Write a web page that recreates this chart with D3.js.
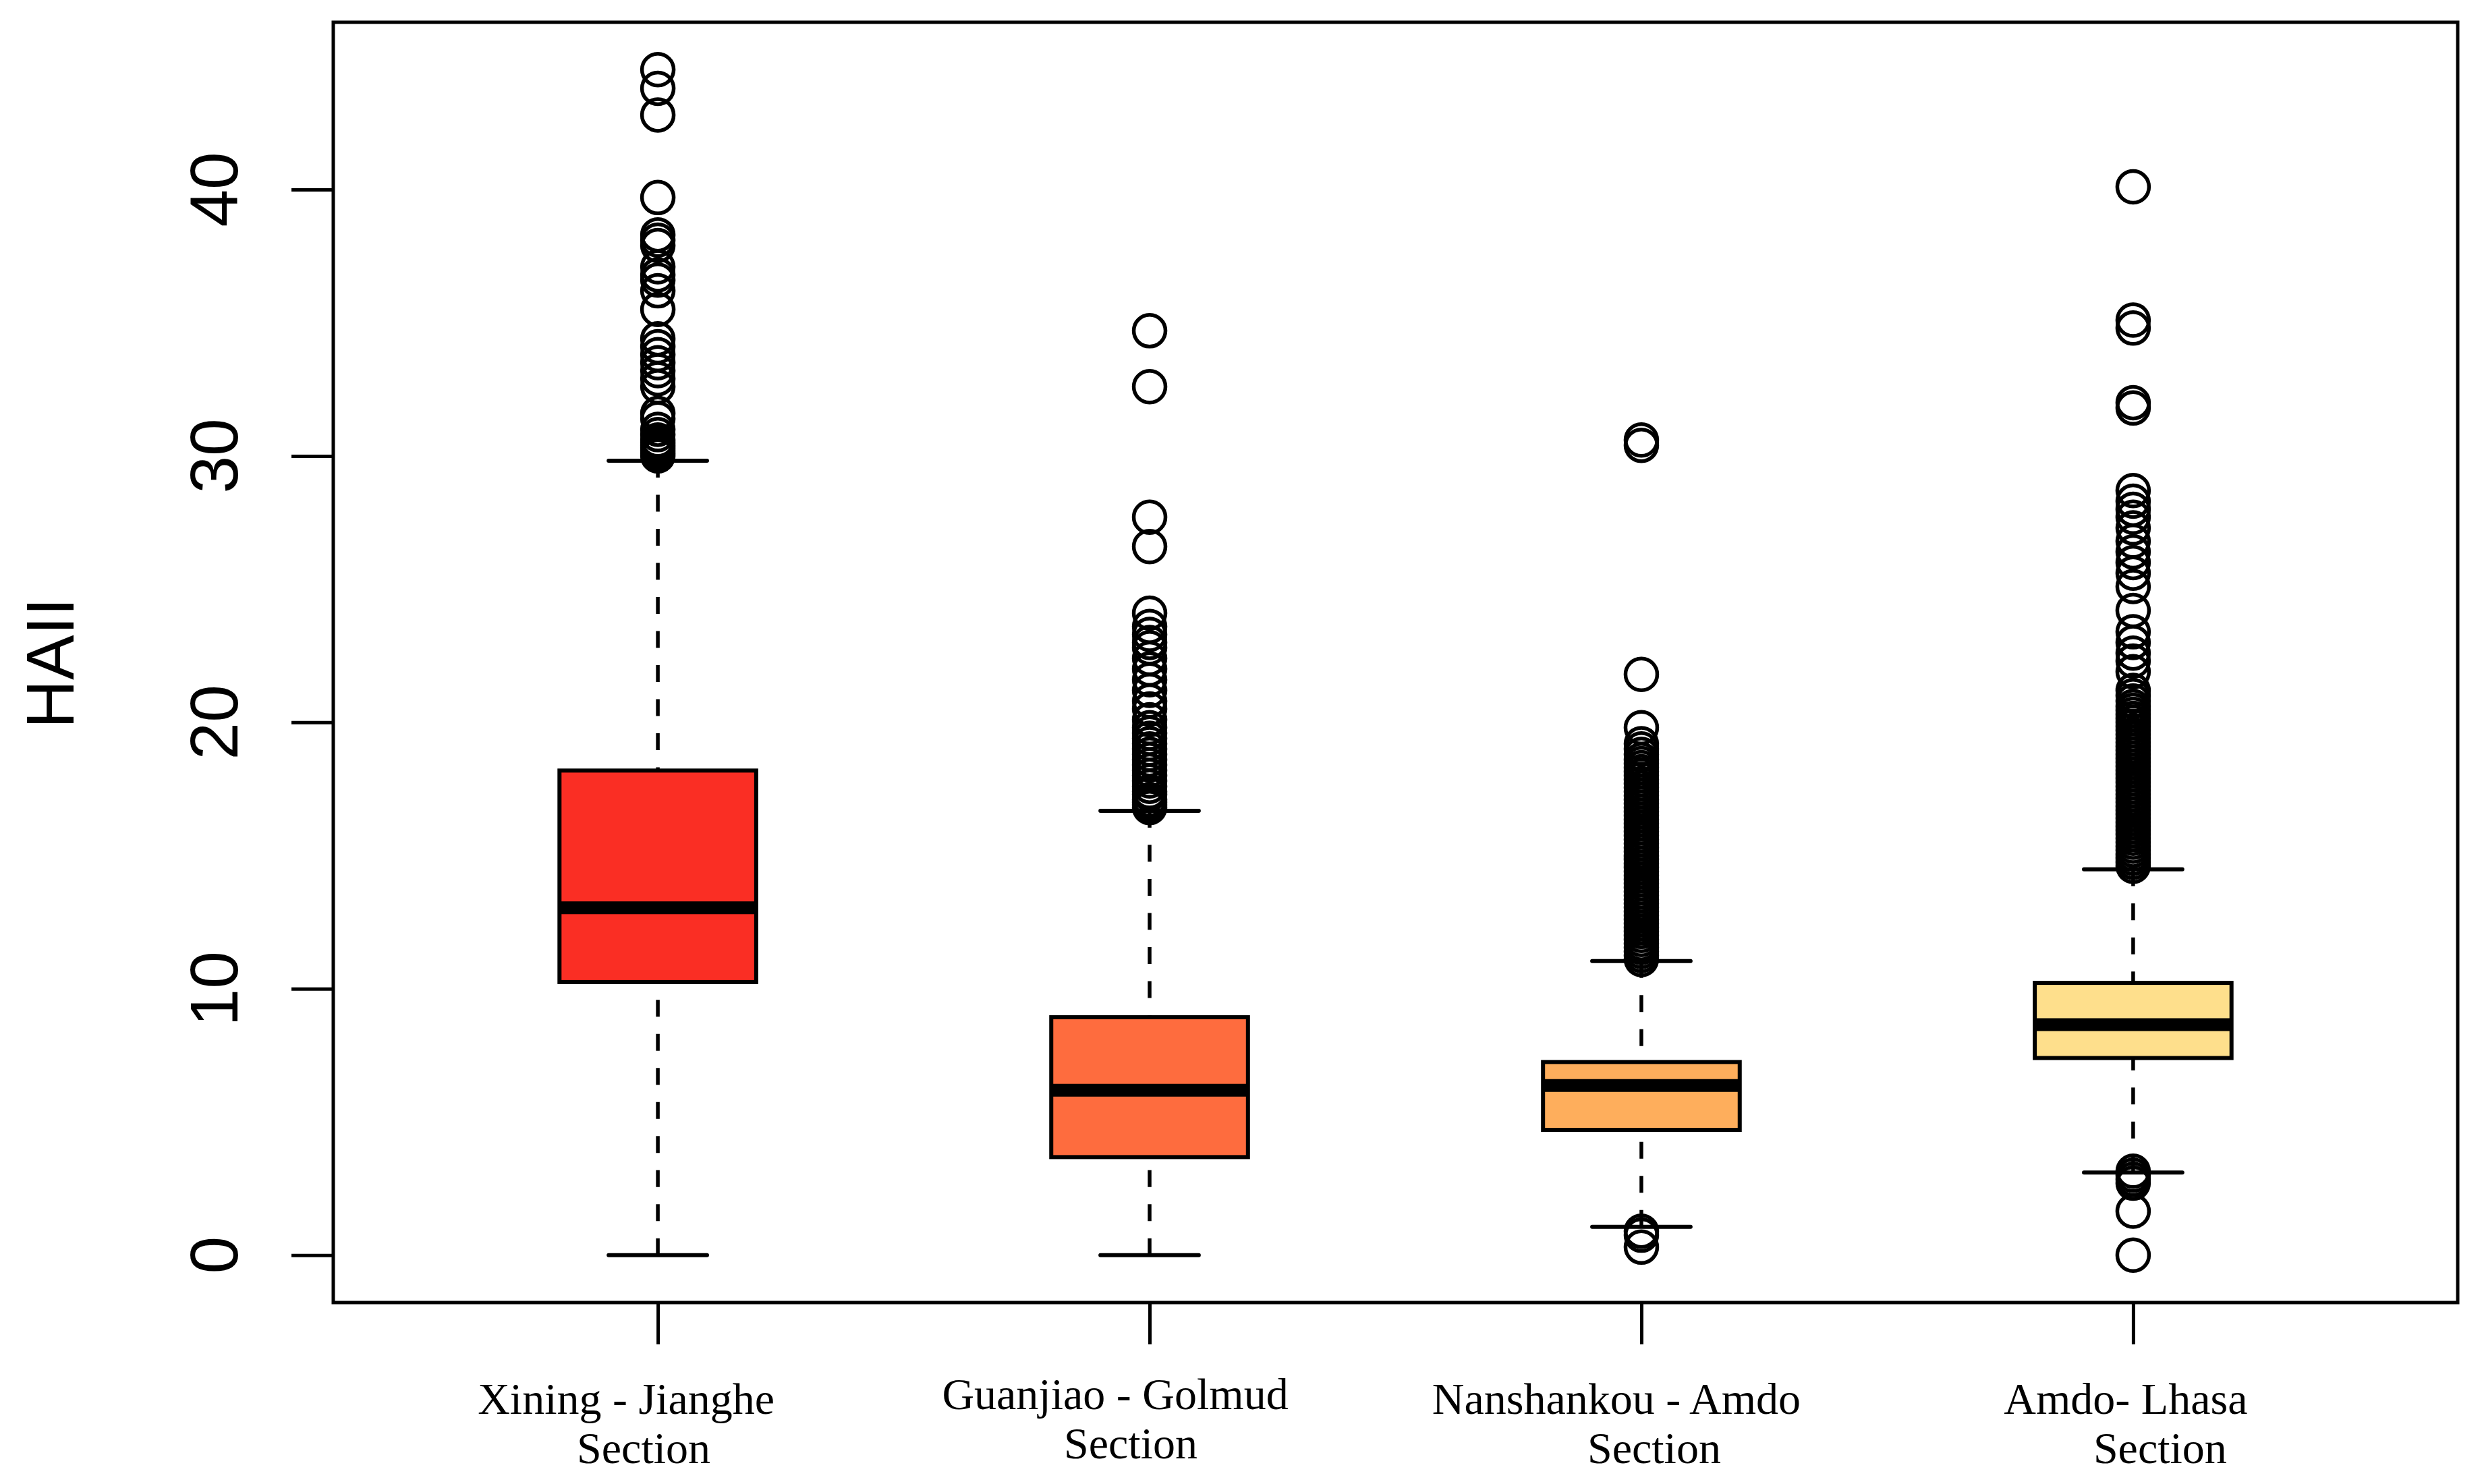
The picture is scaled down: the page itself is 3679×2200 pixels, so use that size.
<html>
<head>
<meta charset="utf-8">
<style>
    body { margin:0; background:white; }
</style>
</head>
<body>
<svg id="plot"></svg>
<script src="https://d3js.org/d3.v7.min.js"></script>
<script>

// ---- data ----
var sections = ["Xining - Jianghe", "Guanjiao - Golmud", "Nanshankou - Amdo", "Amdo- Lhasa"];
var labelLines = [["Xining - Jianghe","Section"],
                  ["Guanjiao - Golmud","Section"],
                  ["Nanshankou - Amdo","Section"],
                  ["Amdo- Lhasa","Section"]];
var fills = ["#FA2E24", "#FE6C3E", "#FEAE5C", "#FEDF8C"];

var whiskerLow  = [0,     0,    1.06, 3.10];
var q1          = [10.25, 3.68, 4.70, 7.40];
var medians     = [13.04, 6.19, 6.37, 8.65];
var q3          = [18.19, 8.93, 7.25, 10.22];
var whiskerHigh = [29.82, 16.68, 11.04, 14.48];

var outXining = [44.5, 43.8, 42.8, 39.7, 38.3, 38.1, 37.9, 37.1, 36.8, 36.6, 36.2, 35.5,
                 34.4, 34.1, 33.8, 33.5, 33.2, 32.9, 32.6, 31.6, 31.4, 31.0, 30.8, 30.6,
                 30.5, 30.4, 30.3, 30.2, 30.1, 30.0];
var outGuanjiao = [34.7, 32.6, 27.7, 26.6, 24.1, 23.6, 23.3, 23.0, 22.8, 22.4, 22.0, 21.6,
                   21.2, 20.8, 20.5, 20.1, 19.8, 19.6, 19.4, 19.2, 19.0, 18.8, 18.6, 18.4,
                   18.2, 18.0, 17.8, 17.6, 17.4, 17.3, 17.1, 17.0, 16.9, 16.8];
var outNanshankou = [30.6, 30.4, 21.8, 19.8, 19.2, 19.0, 18.8, 18.6, 18.45, 18.3, 18.15, 18.0,
                     17.85, 17.7, 17.55, 17.4, 17.25, 17.1, 16.95, 16.8, 16.65, 16.5, 16.35,
                     16.2, 16.05, 15.9, 15.75, 15.6, 15.45, 15.3, 15.15, 15.0, 14.85, 14.7,
                     14.55, 14.4, 14.25, 14.1, 13.95, 13.8, 13.65, 13.5, 13.35, 13.2, 13.05,
                     12.9, 12.75, 12.6, 12.45, 12.3, 12.15, 12.0, 11.85, 11.7, 11.55, 11.4,
                     11.25, 11.1,
                     0.9, 0.75, 0.3];
var outAmdo = [40.1, 35.1, 34.8, 32.0, 31.8, 28.7, 28.3, 28.0, 27.7, 27.3, 26.8, 26.4,
               26.0, 25.6, 25.1, 24.2, 23.4, 23.0, 22.6, 22.3, 21.9, 21.2, 21.0, 20.8,
               20.6, 20.45, 20.3, 20.15, 20.0, 19.85, 19.7, 19.55, 19.4, 19.25, 19.1, 18.95,
               18.8, 18.65, 18.5, 18.35, 18.2, 18.05, 17.9, 17.75, 17.6, 17.45, 17.3, 17.15,
               17.0, 16.85, 16.7, 16.55, 16.4, 16.25, 16.1, 15.95, 15.8, 15.65, 15.5, 15.35,
               15.2, 15.05, 14.9, 14.75, 14.6,
               3.15, 3.0, 2.85, 2.7, 1.65, 0.0];
var outliers = [outXining, outGuanjiao, outNanshankou, outAmdo];

var yTicks = [0, 10, 20, 30, 40];
var yLabel = "HAII";

// ---- layout ----
var screen = {width:3679, height:2200};
var frame = {left:494, right:3643, top:33, bottom:1931};
// small nudges of the two label lines, as set in the original figure
var labelNudge = [{dx1:-47, dx2:-21, dy:0},
                  {dx1:-51, dx2:-28, dy:-7},
                  {dx1:-37, dx2:19,  dy:0},
                  {dx1:-11, dx2:40,  dy:0}];

var svg = d3.select("#plot")
    .attr("width",screen.width)
    .attr("height",screen.height)
    .style("background","white");

// y range as R pads it: 4% beyond the data
var yMin = 0, yMax = 44.5;
var pad = (yMax-yMin)*0.04;
var yScale = d3.scaleLinear()
    .domain([yMin-pad, yMax+pad])
    .range([frame.bottom, frame.top]);

var xScale = d3.scalePoint()
    .domain(sections)
    .range([frame.left, frame.right])
    .padding(0.66);

var boxW = xScale.step()*0.4;

var stats = sections.map(function(s,i)
{
    return {name:s, i:i, lo:whiskerLow[i], q1:q1[i], med:medians[i],
            q3:q3[i], hi:whiskerHigh[i], fill:fills[i]};
});

var boxes = svg.append("g").classed("boxes",true);

var groups = boxes.selectAll("g")
    .data(stats)
    .enter()
    .append("g");

// whiskers, drawn from the whisker end towards the box
groups.append("line")
    .attr("x1",function(d){return xScale(d.name);})
    .attr("x2",function(d){return xScale(d.name);})
    .attr("y1",function(d){return yScale(d.lo);})
    .attr("y2",function(d){return yScale(d.q1);})
    .attr("stroke","black")
    .attr("stroke-width",5.5)
    .attr("stroke-dasharray","25,25.5");

groups.append("line")
    .attr("x1",function(d){return xScale(d.name);})
    .attr("x2",function(d){return xScale(d.name);})
    .attr("y1",function(d){return yScale(d.hi);})
    .attr("y2",function(d){return yScale(d.q3);})
    .attr("stroke","black")
    .attr("stroke-width",5.5)
    .attr("stroke-dasharray","25,25.5");

// staples
["lo","hi"].forEach(function(k)
{
    groups.append("line")
        .attr("x1",function(d){return xScale(d.name)-boxW/4;})
        .attr("x2",function(d){return xScale(d.name)+boxW/4;})
        .attr("y1",function(d){return yScale(d[k]);})
        .attr("y2",function(d){return yScale(d[k]);})
        .attr("stroke","black")
        .attr("stroke-width",6)
        .attr("stroke-linecap","round");
});

groups.append("rect")
    .attr("x",function(d){return xScale(d.name)-boxW/2;})
    .attr("y",function(d){return yScale(d.q3);})
    .attr("width",boxW)
    .attr("height",function(d){return yScale(d.q1)-yScale(d.q3);})
    .attr("fill",function(d){return d.fill;})
    .attr("stroke","black")
    .attr("stroke-width",6);

groups.append("line")
    .attr("x1",function(d){return xScale(d.name)-boxW/2;})
    .attr("x2",function(d){return xScale(d.name)+boxW/2;})
    .attr("y1",function(d){return yScale(d.med);})
    .attr("y2",function(d){return yScale(d.med);})
    .attr("stroke","black")
    .attr("stroke-width",19);

// outliers
groups.selectAll("circle")
    .data(function(d){return outliers[d.i].map(function(v){return {name:d.name, v:v};});})
    .enter()
    .append("circle")
    .attr("cx",function(p){return xScale(p.name);})
    .attr("cy",function(p){return yScale(p.v);})
    .attr("r",23.5)
    .attr("fill","none")
    .attr("stroke","black")
    .attr("stroke-width",5.5);

// frame
svg.append("rect")
    .attr("x",frame.left)
    .attr("y",frame.top)
    .attr("width",frame.right-frame.left)
    .attr("height",frame.bottom-frame.top)
    .attr("fill","none")
    .attr("stroke","black")
    .attr("stroke-width",5);

// y axis
var yAxis = d3.axisLeft(yScale)
    .tickValues(yTicks)
    .tickSize(62)
    .tickSizeOuter(0)
    .tickFormat(function(d){return "";});

var yg = svg.append("g")
    .attr("transform","translate("+frame.left+",0)")
    .call(yAxis);
yg.select(".domain").remove();
yg.selectAll(".tick line").attr("stroke","black").attr("stroke-width",5);

svg.append("g").selectAll("text")
    .data(yTicks)
    .enter()
    .append("text")
    .attr("transform",function(d){return "translate(352,"+yScale(d)+") rotate(-90)";})
    .attr("text-anchor","middle")
    .style("font-family","'Liberation Sans', Arial, sans-serif")
    .style("font-size","100px")
    .text(function(d){return d;});

svg.append("text")
    .attr("transform","translate(109,983) rotate(-90)")
    .attr("text-anchor","middle")
    .style("font-family","'Liberation Sans', Arial, sans-serif")
    .style("font-size","100px")
    .text(yLabel);

// x axis
var xAxis = d3.axisBottom(xScale)
    .tickSize(62)
    .tickSizeOuter(0)
    .tickFormat(function(d){return "";});

var xg = svg.append("g")
    .attr("transform","translate(0,"+frame.bottom+")")
    .call(xAxis);
xg.select(".domain").remove();
xg.selectAll(".tick line").attr("stroke","black").attr("stroke-width",5);

var labels = svg.append("g").classed("labels",true)
    .style("font-family","'Liberation Serif', 'Times New Roman', serif")
    .style("font-size","66px");

sections.forEach(function(s,i)
{
    var n = labelNudge[i];
    labels.append("text")
        .attr("x",xScale(s)+n.dx1)
        .attr("y",2096+n.dy)
        .attr("text-anchor","middle")
        .text(labelLines[i][0]);
    labels.append("text")
        .attr("x",xScale(s)+n.dx2)
        .attr("y",2169+n.dy)
        .attr("text-anchor","middle")
        .text(labelLines[i][1]);
});

</script>
</body>
</html>
